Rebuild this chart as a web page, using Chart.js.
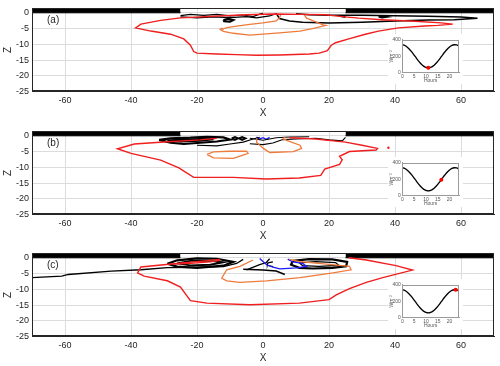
<!DOCTYPE html>
<html>
<head>
<meta charset="utf-8">
<script src="https://cdn.jsdelivr.net/npm/chart.js@4.4.1/dist/chart.umd.min.js"></script>
<style>
  html, body { margin: 0; padding: 0; background: #fff; overflow: hidden; }
  #wrap { position: relative; width: 500px; height: 366px; }
  #wrap canvas { position: absolute; }
  .tag { position: absolute; left: 47px; font: 10px Arial, "Liberation Sans", sans-serif; color: #262626; line-height: 12px; }
</style>
</head>
<body>
<div id="wrap"></div>
<script>
// axes
const xTicks = [-60, -40, -20, 0, 20, 40, 60];
const zTicks = [-25, -20, -15, -10, -5, 0];
const hourTicks = [0, 5, 10, 15, 20];
const fluxTicks = [0, 200, 400];

// land / ice cover at the top (x extent)
const shelfLeft = [-70, -25];
const shelfRight = [25, 70];

// diurnal forcing in the insets
const hours   = [0, 1, 2, 3, 4, 5, 6, 7, 8, 9, 10, 11, 12, 13, 14, 15, 16, 17, 18, 19, 20, 21, 22, 23, 24];
const fluxWm2 = [340, 332, 313, 286, 253, 215, 176, 139, 106, 81, 66, 60, 66, 81, 106, 139, 176, 215, 252, 286, 313, 332, 340, 337, 324];
const markHour = [11, 16.5, 22.6];
const markFlux = [60, 196, 339];

// contours [x, z]  -- panel (a)
const redA = [[19,-0.6],[24,-1.2],[29,-1.7],[36,-2.2],[46,-2.7],[54,-3.2],[57.5,-3.6],[53,-4.0],[49,-4.2],[41,-4.8],[35,-5.8],[31,-6.8],[26,-8.3],[22,-9.5],[20.7,-10.3],[19.5,-12.0],[17,-12.8],[14,-13.1],[5,-13.4],[-2,-13.5],[-8,-13.3],[-14,-13.1],[-20,-12.8],[-21,-12.3],[-22,-10.3],[-24,-8.3],[-28,-6.8],[-34,-5.8],[-38.6,-4.8],[-37,-3.6],[-31,-2.4],[-25,-1.6],[-15,-1.1],[-5,-0.6],[3,-0.4],[12,-0.5],[19,-0.6]];
const orangeA1 = [[-12.5,-5.3],[-11,-4.7],[-8,-4.2],[-4,-3.7],[0,-3.2],[4,-2.6],[5,-1.6],[5.5,-0.3]];
const orangeA2 = [[12.2,-0.2],[13.2,-1.7],[16,-2.9],[18.2,-3.8],[19.1,-4.0],[15,-5.0],[11.2,-5.8],[5,-6.4],[0,-6.8],[-4,-7.1],[-9,-6.5],[-12,-5.9],[-13,-5.3],[-12.5,-4.9],[-12,-5.3]];
const blackA1 = [[-25,-0.9],[-22,-0.5],[-18,-0.8],[-14,-0.5],[-10,-1.0],[-6,-0.7],[-3,-1.2],[-1,-0.4],[0,-0.2]];
const blackA2 = [[-25,-1.3],[-20,-1.6],[-15,-1.3],[-10,-1.5],[-5,-1.2],[-2,-1.6],[2,-1.0],[4,-0.3]];
const blackA3 = [[-12,-2.3],[-10.5,-1.9],[-9,-2.3],[-10,-2.8],[-11.8,-2.7],[-12,-2.3]];
const blackA4 = [[4,-0.2],[5,-1.8],[8,-2.6],[12,-3.0],[20,-3.2],[30,-3.0],[40,-2.6],[50,-2.3],[58,-2.2],[65,-1.7],[60,-1.3],[50,-1.1],[40,-0.9],[30,-0.8],[20,-0.8],[14,-0.6],[10,-0.3]];
const blackA5 = [[35,-1.3],[36.5,-1.0],[38,-1.3],[36,-1.6],[35,-1.3]];
const blackA6 = [[23.5,-1.0],[25,-1.3]];

// panel (b)
const redB = [[-14,-0.8],[-19,-1.3],[-29,-1.9],[-39,-2.6],[-44.1,-4.1],[-40,-5.6],[-31,-7.7],[-25.5,-10.2],[-21,-13.2],[-9,-13.2],[1,-13.7],[11,-13.4],[17.5,-12.6],[18.7,-10.6],[23.2,-9.1],[24,-7.6],[23.2,-6.5],[26.2,-5.0],[34.3,-4.5],[34.7,-4.0],[30,-3.0],[25,-2.0],[16,-1.0],[8,-0.6]];
const redBdot = [[38,-3.8]];
const orangeB1 = [[-17,-5.9],[-15,-5.1],[-10,-4.9],[-5,-4.9],[-4.5,-5.6],[-9,-7.2],[-15,-7.0],[-17,-5.9]];
const orangeB2 = [[-1.9,-0.8],[-1.9,-2.1],[0.1,-4.0],[2.1,-5.3],[9.2,-5.0],[11.7,-4.0],[11.2,-3.0],[8,-1.8],[6.1,-1.0],[6.7,-0.3]];
const blackB1 = [[-31.5,-1.3],[-28,-0.8],[-22,-0.6],[-17,-0.3],[-12,-0.5],[-10,-1.2],[-14,-1.8],[-19,-2.2],[-24,-2.6],[-28,-2.2],[-31.5,-1.3]];
const blackB2 = [[-29,-1.5],[-24,-1.2],[-19,-1.0],[-15,-1.1],[-19,-1.6],[-25,-1.8],[-29,-1.5]];
const blackB3 = [[-20,-3.0],[-14,-3.2],[-10,-2.6],[-6,-2.0],[-3,-1.0],[-1,-0.5]];
const blackB4 = [[-9.5,-0.8],[-8.5,-0.4],[-7.5,-0.8],[-8.5,-1.3],[-9.5,-0.8]];
const blackB5 = [[-7.3,-0.8],[-6.3,-0.4],[-5.3,-0.8],[-6.3,-1.3],[-7.3,-0.8]];
const blackB6 = [[-4,-2.5],[0,-2.8],[3,-2.3],[6,-1.2],[10,-1.0],[16,-0.8],[20,-1.3],[24,-1.6],[25,-0.5]];
const blackB7 = [[-4,-0.8],[0,-1.4],[4,-0.6],[8,-0.4],[14,-0.3]];
const blueB = [[-2,-0.4],[-1,-1.0],[0,-0.6],[1,-1.1],[2,-0.5]];

// panel (c)
const redC = [[26,0],[31.3,-0.7],[40.3,-2.5],[45.3,-3.9],[36.3,-6.3],[31.3,-7.8],[26.2,-9.8],[22.2,-11.8],[20,-13.3],[11,-14.4],[-4,-14.9],[-17,-14.4],[-22,-13.6],[-25,-9.3],[-29,-7.3],[-36,-5.8],[-38,-4.8],[-37,-2.9],[-27,-1.9],[-20,-1.2],[-13,-0.5]];
const redC2 = [[-27,-2.0],[-22,-1.8],[-16,-1.3],[-13,-0.8]];
const orangeC = [[-3,-0.7],[-7,-2.7],[-11,-3.8],[-12.5,-6.5],[-11,-7.3],[-7,-7.8],[1.1,-7.3],[11.2,-6.3],[21.2,-4.8],[26.7,-3.8],[26.2,-2.7],[19.2,-2.0],[11.2,-1.2],[8,-0.5]];
const blueC = [[-1,-0.2],[0,-1.2],[1.1,-2.2],[3,-3.0],[5.1,-3.5],[10.2,-3.2],[13.2,-2.7],[12,-1.8],[9,-1.3],[7.5,-0.4]];
const blackC1 = [[-29,-1.9],[-26,-0.8],[-20,-0.2],[-14,-0.3],[-9,-1.3],[-12,-2.5],[-20,-3.2],[-26,-2.8],[-29,-1.9]];
const blackC2 = [[-26,-1.8],[-22,-1.0],[-17,-0.9],[-12,-1.4],[-16,-2.2],[-22,-2.4],[-26,-1.8]];
const blackC3 = [[-70,-6.3],[-61,-5.8],[-59,-5.3],[-46,-4.2],[-37,-3.8],[-29,-3.1],[-20,-3.0],[-12,-2.8],[-8,-1.8],[-6,-0.5]];
const blackC4 = [[-5,-3.8],[-1,-2.2],[1,-1.5],[2,-0.3]];
const blackC5 = [[-6,-3.6],[0,-3.9],[4,-4.2],[6.6,-5.3]];
const blackC6 = [[3,-1.3],[1.5,-1.6],[1.3,-2.4],[3,-2.8]];
const blackC7 = [[9,-1.0],[14,-0.4],[21,-0.5],[25.5,-1.3],[25.2,-2.7],[21,-3.2],[15,-3.4],[11,-3.2],[8.5,-2.2],[9,-1.0]];
const blackC8 = [[11,-1.6],[16,-1.2],[22,-1.5],[23,-2.4],[17,-2.7],[12,-2.5],[11,-1.6]];

const RED = '#f01e1e', ORANGE = '#ee7a3c', BLACK = '#000000', BLUE = '#1a1aff';
const FONT = 'Arial, "Liberation Sans", sans-serif';
const INK = '#262626';
Chart.defaults.font.family = FONT;

const panels = [
  { tag: '(a)', top: 0, mark: 0, lines: [
    [redA, RED, 1.4], [orangeA1, ORANGE, 1.3], [orangeA2, ORANGE, 1.3],
    [blackA1, BLACK, 1.2], [blackA2, BLACK, 1.2], [blackA3, BLACK, 2], [blackA4, BLACK, 1.5], [blackA5, BLACK, 1.5], [blackA6, BLACK, 2]
  ], dots: [] },
  { tag: '(b)', top: 123, mark: 1, lines: [
    [redB, RED, 1.4], [orangeB1, ORANGE, 1.3], [orangeB2, ORANGE, 1.3],
    [blackB1, BLACK, 2.2], [blackB2, BLACK, 2], [blackB3, BLACK, 1.1], [blackB4, BLACK, 1.8], [blackB5, BLACK, 1.8],
    [blackB6, BLACK, 1.1], [blackB7, BLACK, 1.1], [blueB, BLUE, 1.3]
  ], dots: [[redBdot, RED]] },
  { tag: '(c)', top: 245, mark: 2, lines: [
    [redC, RED, 1.4], [redC2, RED, 1.3], [orangeC, ORANGE, 1.3], [blueC, BLUE, 1.3],
    [blackC1, BLACK, 2.2], [blackC2, BLACK, 1.8], [blackC3, BLACK, 1.3], [blackC4, BLACK, 1.3], [blackC5, BLACK, 1.5],
    [blackC6, BLACK, 1.1], [blackC7, BLACK, 2.2], [blackC8, BLACK, 1.3]
  ], dots: [] }
];

const toXY = pts => pts.map(([x, z]) => ({ x: x, y: z }));

// white background + full box around the plot area
const whiteBg = {
  id: 'whiteBg',
  beforeDraw(chart) {
    const ctx = chart.ctx;
    ctx.save();
    ctx.fillStyle = '#fff';
    ctx.fillRect(0, 0, chart.width, chart.height);
    ctx.restore();
  }
};
const frame = {
  id: 'frame',
  afterDatasetsDraw(chart, args, opts) {
    const { ctx, chartArea: a } = chart;
    ctx.save();
    ctx.strokeStyle = opts.color || INK;
    ctx.lineWidth = 1;
    ctx.strokeRect(Math.round(a.left) + 0.5, Math.round(a.top) + 0.5, Math.round(a.width) - 1, Math.round(a.height) - 1);
    ctx.restore();
  }
};

const wrap = document.getElementById('wrap');
function addCanvas(left, top, w, h) {
  const c = document.createElement('canvas');
  c.width = w; c.height = h;
  c.style.left = left + 'px'; c.style.top = top + 'px';
  wrap.appendChild(c);
  return c;
}

function drawPanel(p) {
  const datasets = [];
  p.dots.forEach(([pts, color]) => datasets.push({
    data: toXY(pts), showLine: false, pointRadius: 1.2, pointBackgroundColor: color, pointBorderWidth: 0
  }));
  p.lines.forEach(([pts, color, w]) => datasets.push({
    data: toXY(pts), showLine: true, borderColor: color, borderWidth: w, pointRadius: 0, tension: 0, fill: false
  }));
  [shelfLeft, shelfRight].forEach(span => datasets.push({
    data: span.map(x => ({ x: x, y: 0 })), showLine: true, borderColor: '#000', borderWidth: 1,
    backgroundColor: '#000', fill: 'end', pointRadius: 0
  }));

  const canvas = addCanvas(0, p.top, 500, 122);
  new Chart(canvas, {
    type: 'scatter',
    data: { datasets },
    options: {
      responsive: false,
      animation: false,
      events: [],
      layout: { padding: { top: 4.5, right: 6, left: 0, bottom: 0 } },
      plugins: { legend: { display: false }, tooltip: { enabled: false }, frame: { color: INK } },
      scales: {
        x: {
          type: 'linear', min: -70, max: 70,
          afterBuildTicks: s => { s.ticks = xTicks.map(v => ({ value: v })); },
          afterFit: s => { s.height = 30.5; },
          grid: { color: '#dcdcdc', drawTicks: false },
          border: { color: INK },
          ticks: { color: INK, font: { size: 9 }, padding: 4, maxRotation: 0 },
          title: { display: true, text: 'X', color: INK, font: { size: 10 }, padding: { top: 0, bottom: 3 } }
        },
        y: {
          type: 'linear', min: -25, max: 1.4,
          afterBuildTicks: s => { s.ticks = zTicks.map(v => ({ value: v })); },
          afterFit: s => { s.width = 32; },
          grid: { color: '#dcdcdc', drawTicks: false },
          border: { color: INK },
          ticks: { color: INK, font: { size: 9 }, padding: 3 },
          title: { display: true, text: 'Z', color: INK, font: { size: 10 }, padding: { top: 2, bottom: 0 } }
        }
      }
    },
    plugins: [whiteBg, frame]
  });

  const tag = document.createElement('div');
  tag.className = 'tag';
  tag.style.top = (p.top + 14) + 'px';
  tag.textContent = p.tag;
  wrap.appendChild(tag);

  // inset with the diurnal cycle
  const inset = addCanvas(388, p.top + 34, 75, 50);
  new Chart(inset, {
    type: 'scatter',
    data: {
      datasets: [
        { data: [{ x: markHour[p.mark], y: markFlux[p.mark] }], pointRadius: 2, pointBackgroundColor: '#ff0000', pointBorderWidth: 0 },
        { data: hours.map((h, i) => ({ x: h, y: fluxWm2[i] })), showLine: true, borderColor: '#000', borderWidth: 1.3, pointRadius: 0, tension: 0.3 }
      ]
    },
    options: {
      responsive: false,
      animation: false,
      events: [],
      layout: { padding: { top: 5.8, right: 2.5, left: 0, bottom: 0 } },
      plugins: { legend: { display: false }, tooltip: { enabled: false }, frame: { color: '#9a9a9a' } },
      scales: {
        x: {
          type: 'linear', min: 0, max: 24,
          afterBuildTicks: s => { s.ticks = hourTicks.map(v => ({ value: v })); },
          afterFit: s => { s.height = 11.2; },
          grid: { display: false, drawTicks: false },
          border: { color: '#9a9a9a' },
          ticks: { color: '#555', font: { size: 5 }, padding: 1, maxRotation: 0 },
          title: { display: true, text: 'Hours', color: '#555', font: { size: 5 }, padding: { top: 0, bottom: 0 } }
        },
        y: {
          type: 'linear', min: 0, max: 400,
          afterBuildTicks: s => { s.ticks = fluxTicks.map(v => ({ value: v })); },
          afterFit: s => { s.width = 14.3; },
          grid: { display: false, drawTicks: false },
          border: { color: '#9a9a9a' },
          ticks: { color: '#555', font: { size: 5 }, padding: 1.5 },
          title: { display: true, text: 'Wm⁻²', color: '#555', font: { size: 5 }, padding: { top: 1, bottom: 0 } }
        }
      }
    },
    plugins: [whiteBg, frame]
  });
}

panels.forEach(drawPanel);
</script>
</body>
</html>
